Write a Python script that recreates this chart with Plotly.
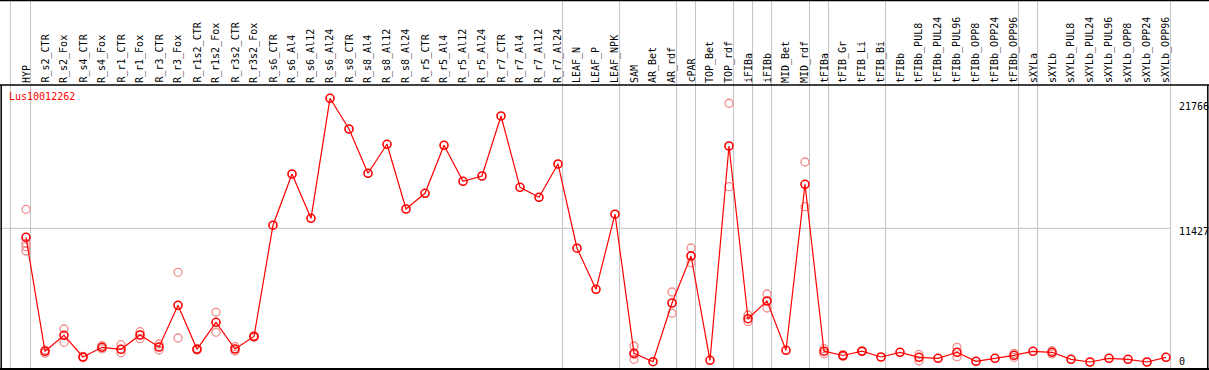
import plotly.graph_objects as go

# ---------------- data ----------------
categories = [
    "HYP", "R_s2_CTR", "R_s2_Fox", "R_s4_CTR", "R_s4_Fox", "R_r1_CTR", "R_r1_Fox",
    "R_r3_CTR", "R_r3_Fox", "R_r1s2_CTR", "R_r1s2_Fox", "R_r3s2_CTR", "R_r3s2_Fox",
    "R_s6_CTR", "R_s6_Al4", "R_s6_Al12", "R_s6_Al24", "R_s8_CTR", "R_s8_Al4",
    "R_s8_Al12", "R_s8_Al24", "R_r5_CTR", "R_r5_Al4", "R_r5_Al12", "R_r5_Al24",
    "R_r7_CTR", "R_r7_Al4", "R_r7_Al12", "R_r7_Al24", "LEAF_N", "LEAF_P", "LEAF_NPK",
    "SAM", "AR_Bet", "AR_rdf", "cPAR", "TOP_Bet", "TOP_rdf", "iFIBa", "iFIBb",
    "MID_Bet", "MID_rdf", "tFIBa", "tFIB_Gr", "tFIB_Li", "tFIB_Bi", "tFIBb",
    "tFIBb_PUL8", "tFIBb_PUL24", "tFIBb_PUL96", "tFIBb_OPP8", "tFIBb_OPP24",
    "tFIBb_OPP96", "sXYLa", "sXYLb", "sXYLb_PUL8", "sXYLb_PUL24", "sXYLb_PUL96",
    "sXYLb_OPP8", "sXYLb_OPP24", "sXYLb_OPP96",
]

mean_values = [
    10683, 1257, 2580, 786, 1588, 1422, 2605,
    1612, 5061, 1422, 3655, 1447, 2481,
    11684, 15918, 12255, 22177, 19639, 15976,
    18374, 13024, 14322, 18291, 15314, 15752,
    20714, 14818, 13991, 16745, 9782, 6384, 12594,
    1092, 397, 5251, 9137, 513, 18233, 3953, 5416,
    1340, 15066, 1265, 910, 1265, 786, 1174,
    761, 678, 1174, 430, 678,
    926, 1257, 1174, 595, 372, 678,
    595, 372, 761,
]

replicates = {
    "HYP": [12999, 10187, 9906, 9551],
    "R_s2_CTR": [1364, 1100],
    "R_s2_Fox": [3101, 2001],
    "R_s4_CTR": [830, 740],
    "R_s4_Fox": [1720, 1450],
    "R_r1_CTR": [1803, 1141],
    "R_r1_Fox": [2878, 2299],
    "R_r3_CTR": [1861, 1364],
    "R_r3_Fox": [7789, 2357],
    "R_r1s2_CTR": [1480, 1360],
    "R_r1s2_Fox": [4482, 2828],
    "R_r3s2_CTR": [1637, 1282],
    "R_r3s2_Fox": [2540, 2420],
    "SAM": [1695, 1000, 595],
    "AR_rdf": [6160, 4399],
    "cPAR": [9799, 8583],
    "TOP_rdf": [21766, 14868],
    "iFIBa": [4259, 3705],
    "iFIBb": [5995, 4837],
    "MID_rdf": [16910, 13214],
    "tFIBa": [1472, 1060],
    "tFIB_Gr": [980, 840],
    "tFIB_Li": [1300, 1230],
    "tFIBb_PUL8": [1009, 455],
    "tFIBb_PUL96": [1588, 810],
    "tFIBb_OPP96": [1090, 761],
    "sXYLb": [1306, 1040],
}

group_last = ["HYP", "R_r7_Al24", "LEAF_NPK", "AR_rdf", "cPAR", "TOP_rdf", "iFIBa",
              "iFIBb", "MID_rdf", "tFIBa", "tFIB_Bi", "tFIBb_OPP96", "sXYLa", "sXYLb_OPP96"]

y_tick_values = [21766, 11427, 0]
gene_label = "Lus10012262"

# ---------------- figure ----------------
W, H = 1209, 370
FONT = "DejaVu Sans Mono"
idx = list(range(len(categories)))

# pixel geometry helpers (axis ranges)
x0_px, dx_px = 26.0, 19.0          # first category center, spacing
y0_px, scale = 366.5, 0.012094     # pixel of value 0, px per unit
x_range = [(0 - x0_px) / dx_px, (W - x0_px) / dx_px]
y_range = [(y0_px - H) / scale, y0_px / scale]

fig = go.Figure()

rep_x, rep_y = [], []
for i, c in enumerate(categories):
    for v in replicates.get(c, []):
        rep_x.append(i)
        rep_y.append(v)

fig.add_trace(go.Scatter(
    x=rep_x, y=rep_y, mode="markers",
    marker=dict(symbol="circle-open", size=8, color="#f08c8c", line=dict(width=1.3, color="#f08c8c")),
    hoverinfo="skip", showlegend=False,
))
fig.add_trace(go.Scatter(
    x=idx, y=mean_values, mode="lines+markers",
    line=dict(color="#ff0000", width=1.2),
    marker=dict(symbol="circle-open", size=8, color="#ff0000", line=dict(width=1.6, color="#ff0000")),
    showlegend=False,
))

shapes = []
# vertical group separators
sep_positions = [-0.82] + [categories.index(c) + 0.24 for c in group_last]
for p in sep_positions:
    shapes.append(dict(type="line", xref="x", yref="paper", x0=p, x1=p, y0=0, y1=1,
                       line=dict(color="#c4c4c4", width=1), layer="below"))
# horizontal grid at middle tick
shapes.append(dict(type="line", xref="x", yref="y", x0=x_range[0], x1=categories.index("sXYLb_OPP96") + 0.24,
                   y0=y_tick_values[1], y1=y_tick_values[1],
                   line=dict(color="#c4c4c4", width=1), layer="below"))
# black frame lines
sep_y = 1 - 85 / H
shapes += [
    dict(type="line", xref="paper", yref="paper", x0=0, x1=1, y0=1 - 0.5 / H, y1=1 - 0.5 / H,
         line=dict(color="black", width=1.5)),
    dict(type="line", xref="paper", yref="paper", x0=0, x1=1, y0=sep_y, y1=sep_y,
         line=dict(color="black", width=1.5)),
    dict(type="line", xref="paper", yref="paper", x0=0, x1=1, y0=1 - 369 / H, y1=1 - 369 / H,
         line=dict(color="black", width=2)),
    dict(type="line", xref="paper", yref="paper", x0=1.2 / W, x1=1.2 / W, y0=0, y1=sep_y,
         line=dict(color="black", width=1.5)),
    dict(type="line", xref="paper", yref="paper", x0=1 - 1.2 / W, x1=1 - 1.2 / W, y0=0, y1=sep_y,
         line=dict(color="black", width=1.5)),
]

annotations = []
for i, c in enumerate(categories):
    annotations.append(dict(
        x=i, y=1 - 84 / H, xref="x", yref="paper", text=c, showarrow=False,
        textangle=-90, xanchor="center", yanchor="bottom",
        font=dict(family=FONT, size=10, color="black"), borderpad=0,
    ))
for v in y_tick_values[:2]:
    annotations.append(dict(
        x=1178 / W, y=v, xref="paper", yref="y", text=str(v), showarrow=False,
        xanchor="left", yanchor="top", yshift=3, borderpad=0,
        font=dict(family=FONT, size=10, color="black"),
    ))
annotations.append(dict(
    x=1178 / W, y=1 - 368 / H, xref="paper", yref="paper", text=str(y_tick_values[2]),
    showarrow=False, xanchor="left", yanchor="bottom", borderpad=0,
    font=dict(family=FONT, size=10, color="black"),
))
annotations.append(dict(
    x=8 / W, y=1 - 90 / H, xref="paper", yref="paper", text=gene_label, showarrow=False,
    xanchor="left", yanchor="top", borderpad=0,
    font=dict(family=FONT, size=10, color="#ff0000"),
))

fig.update_layout(
    width=W, height=H,
    margin=dict(l=0, r=0, t=0, b=0, pad=0),
    paper_bgcolor="white", plot_bgcolor="white",
    xaxis=dict(range=x_range, visible=False, fixedrange=True),
    yaxis=dict(range=y_range, visible=False, fixedrange=True),
    shapes=shapes, annotations=annotations,
)

fig.write_html(
    "out.html",
    config={"displayModeBar": False},
    post_script="document.body.style.margin='0';document.body.style.overflow='hidden';",
)
